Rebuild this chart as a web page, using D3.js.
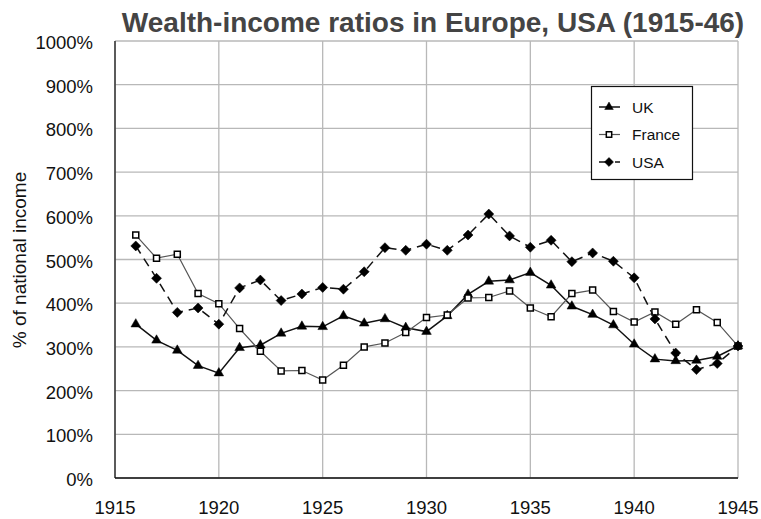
<!DOCTYPE html>
<html>
<head>
<meta charset="utf-8">
<script src="https://cdn.jsdelivr.net/npm/d3@7"></script>
<style>
  body { margin: 0; background: #fff; }
  text { font-family: "Liberation Sans", Arial, sans-serif; }
</style>
</head>
<body>
<div id="chart"></div>
<script>
const years = d3.range(1916, 1946);

const uk = [352, 315, 292, 257, 240, 298, 304, 331, 347, 346,
    371, 354, 364, 344, 335, 371, 420, 450, 453, 470,
    441, 393, 374, 350, 306, 272, 268, 269, 278, 302];

const france = [556, 503, 512, 422, 399, 342, 290, 245, 246, 224,
    258, 300, 309, 333, 367, 373, 412, 413, 428, 389,
    369, 422, 430, 381, 357, 380, 352, 385, 356, 302];

const usa = [531, 457, 379, 389, 352, 435, 453, 406, 421, 436,
    432, 472, 527, 521, 535, 521, 556, 604, 554, 528,
    544, 495, 515, 496, 458, 364, 286, 248, 262, 302];

const xTicks = [1915, 1920, 1925, 1930, 1935, 1940, 1945];
const yTicks = [0, 100, 200, 300, 400, 500, 600, 700, 800, 900, 1000];

const width = 761;
const height = 519;
const margin = {top: 41, right: 23, bottom: 41, left: 115};

const svg = d3.select('#chart')
    .append('svg')
    .attr('width', width)
    .attr('height', height);

const x = d3.scaleLinear()
    .domain([1915, 1945])
    .range([margin.left, width - margin.right]);

const y = d3.scaleLinear()
    .domain([0, 1000])
    .range([height - margin.bottom, margin.top]);

// grid
svg.append('g')
    .selectAll('line')
    .data(yTicks)
    .join('line')
    .attr('x1', x(1915)).attr('x2', x(1945))
    .attr('y1', d => y(d)).attr('y2', d => y(d))
    .attr('stroke', '#b8b8b8')
    .attr('stroke-width', 1.3);

svg.append('g')
    .selectAll('line')
    .data(xTicks)
    .join('line')
    .attr('x1', d => x(d)).attr('x2', d => x(d))
    .attr('y1', y(0)).attr('y2', y(1000))
    .attr('stroke', '#b8b8b8')
    .attr('stroke-width', 1.3);

// axes lines
svg.append('line')
    .attr('x1', x(1915)).attr('x2', x(1915))
    .attr('y1', y(0)).attr('y2', y(1000))
    .attr('stroke', '#333').attr('stroke-width', 1.5);
svg.append('line')
    .attr('x1', x(1915)).attr('x2', x(1945))
    .attr('y1', y(0)).attr('y2', y(0))
    .attr('stroke', '#111').attr('stroke-width', 1.5);

// tick labels
svg.append('g')
    .selectAll('text')
    .data(yTicks)
    .join('text')
    .attr('x', 93)
    .attr('y', d => y(d) + 8)
    .attr('text-anchor', 'end')
    .attr('font-size', 18.5)
    .attr('fill', '#111')
    .text(d => d + '%');

svg.append('g')
    .selectAll('text')
    .data(xTicks)
    .join('text')
    .attr('x', d => x(d))
    .attr('y', 514)
    .attr('text-anchor', 'middle')
    .attr('font-size', 18.5)
    .attr('fill', '#111')
    .text(d => d);

svg.append('text')
    .attr('transform', 'translate(26,260) rotate(-90)')
    .attr('text-anchor', 'middle')
    .attr('font-size', 19)
    .attr('fill', '#111')
    .text('% of national income');

svg.append('text')
    .attr('x', 433)
    .attr('y', 32)
    .attr('text-anchor', 'middle')
    .attr('font-size', 28)
    .attr('font-weight', 'bold')
    .attr('fill', '#444')
    .text('Wealth-income ratios in Europe, USA (1915-46)');

// series
const line = d3.line()
    .x((d, i) => x(years[i]))
    .y(d => y(d));

const series = [
    {name: 'UK', values: uk, stroke: '#111', width: 1.5, dash: null, symbol: d3.symbolTriangle, size: 40, rot: 0, fill: '#000'},
    {name: 'France', values: france, stroke: '#555', width: 1.2, dash: null, symbol: d3.symbolSquare, size: 36, rot: 0, fill: '#fff'},
    {name: 'USA', values: usa, stroke: '#111', width: 1.5, dash: '9,6', symbol: d3.symbolSquare, size: 50, rot: 45, fill: '#000'}
];

series.forEach(s => {
    svg.append('path')
        .datum(s.values)
        .attr('d', line)
        .attr('fill', 'none')
        .attr('stroke', s.stroke)
        .attr('stroke-width', s.width)
        .attr('stroke-dasharray', s.dash);

    svg.append('g')
        .selectAll('path')
        .data(s.values)
        .join('path')
        .attr('transform', (d, i) => `translate(${x(years[i])},${y(d)}) rotate(${s.rot})`)
        .attr('d', d3.symbol(s.symbol, s.size))
        .attr('fill', s.fill)
        .attr('stroke', '#000')
        .attr('stroke-width', s.fill === '#fff' ? 1.5 : 0.5);
});

// legend
const legend = svg.append('g');
legend.append('rect')
    .attr('x', 591.5).attr('y', 86.5)
    .attr('width', 101).attr('height', 93)
    .attr('fill', '#fff')
    .attr('stroke', '#111')
    .attr('stroke-width', 1.2);

series.forEach((s, i) => {
    const ly = 107 + i * 27.5;
    legend.append('line')
        .attr('x1', 599).attr('x2', 620)
        .attr('y1', ly).attr('y2', ly)
        .attr('stroke', s.stroke)
        .attr('stroke-width', s.width)
        .attr('stroke-dasharray', s.dash ? '13,3' : null);
    legend.append('path')
        .attr('transform', `translate(609,${ly}) rotate(${s.rot})`)
        .attr('d', d3.symbol(s.symbol, s.size * 0.8))
        .attr('fill', s.fill)
        .attr('stroke', '#000')
        .attr('stroke-width', s.fill === '#fff' ? 1.5 : 0.5);
    legend.append('text')
        .attr('x', 632)
        .attr('y', ly + 5.5)
        .attr('font-size', 15.5)
        .attr('fill', '#111')
        .text(s.name);
});
</script>
</body>
</html>
